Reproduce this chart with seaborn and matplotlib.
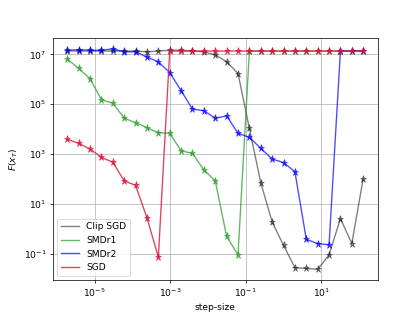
import numpy as np
import pandas as pd
import matplotlib
matplotlib.use("Agg")
import matplotlib.pyplot as plt
import seaborn as sns
from matplotlib.lines import Line2D

step_exp = list(range(-19, 8))
steps = [2.0 ** e for e in step_exp]

clip_sgd = [1.35e7, 1.35e7, 1.35e7, 1.35e7, 1.35e7, 1.35e7, 1.35e7, 1.26e7, 1.35e7, 1.45e7,
            1.45e7, 1.35e7, 1.26e7, 9.5e6, 5.1e6, 1.7e6, 1.07e4, 71, 1.9, 0.22,
            0.028, 0.026, 0.024, 0.091, 2.6, 0.26, 105]
smdr1 = [6.5e6, 2.7e6, 1.05e6, 1.5e5, 1.1e5, 2.75e4, 1.8e4, 1.15e4, 7.2e3, 6.8e3,
         1.35e3, 1.07e3, 2.3e2, 85, 0.5, 0.091, 1.35e7, 1.35e7, 1.35e7, 1.35e7,
         1.35e7, 1.35e7, 1.35e7, 1.35e7, 1.35e7, 1.35e7, 1.35e7]
smdr2 = [1.45e7, 1.55e7, 1.45e7, 1.45e7, 1.66e7, 1.26e7, 1.26e7, 7.8e6, 5.0e6, 1.86e6,
         3.5e5, 6.3e4, 5.5e4, 2.75e4, 3.4e4, 6.8e3, 4.7e3, 1.7e3, 6.3e2, 4.6e2,
         1.95e2, 0.38, 0.26, 0.23, 1.38e7, 1.38e7, 1.38e7]
sgd = [3.9e3, 2.7e3, 1.6e3, 7.4e2, 4.7e2, 85, 56, 2.8, 0.074, 1.35e7,
       1.35e7, 1.35e7, 1.35e7, 1.35e7, 1.35e7, 1.35e7, 1.35e7, 1.35e7, 1.35e7, 1.35e7,
       1.35e7, 1.35e7, 1.35e7, 1.35e7, 1.35e7, 1.35e7, 1.35e7]

x_ticks = [1e-5, 1e-3, 1e-1, 1e1]

names = ["Clip SGD", "SMDr1", "SMDr2", "SGD"]
series = [clip_sgd, smdr1, smdr2, sgd]
colors = ["black", "tab:green", "blue", "crimson"]
alphas = [0.5, 0.75, 0.7, 0.8]

fig, ax = plt.subplots(figsize=(6.4, 4.8), dpi=65.625)
handles = []
for name, vals, c, a in zip(names, series, colors, alphas):
    df = pd.DataFrame({"step": steps, "F": vals})
    sns.lineplot(data=df, x="step", y="F", ax=ax, color=c, alpha=a, marker="*",
                 markersize=8, markeredgecolor=c, linewidth=1.5, label=None)
    handles.append(Line2D([], [], color=c, alpha=a, linewidth=1.5, label=name))

ax.set_xscale("log")
ax.set_yscale("log")
ax.set_xticks(x_ticks)
ax.minorticks_off()
ax.grid(True, which="major")
ax.set_xlabel("step-size")
ax.set_ylabel(r"$F(x_T)$")
ax.legend(handles=handles, loc="lower left")
fig.savefig("out.png", dpi=65.625)
